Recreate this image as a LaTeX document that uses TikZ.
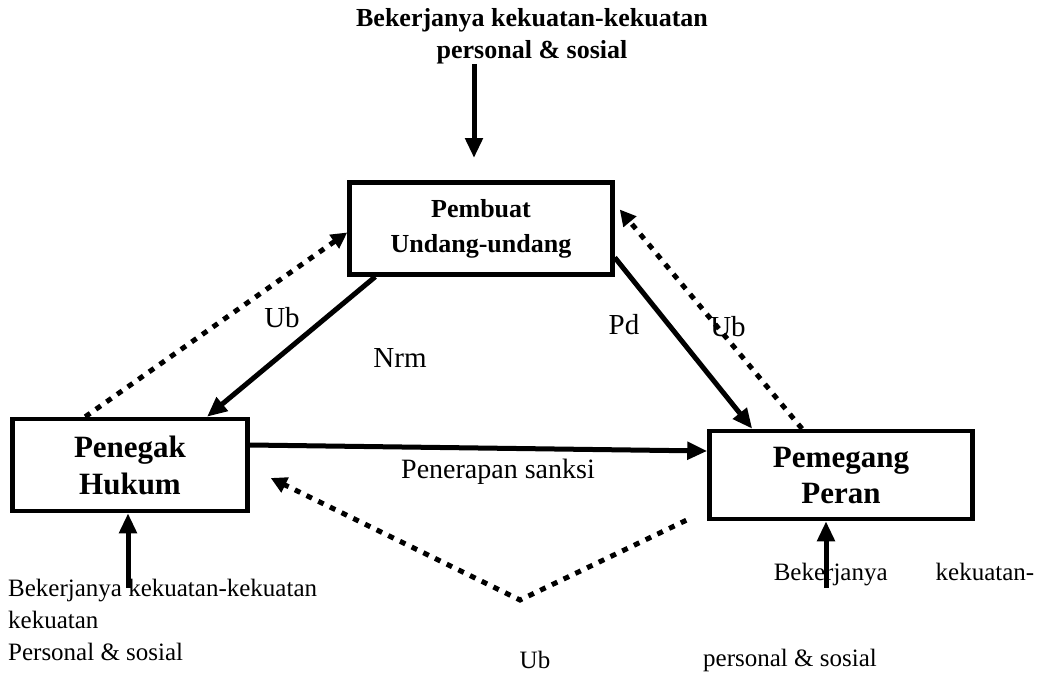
\documentclass[tikz,border=0pt]{standalone}
\usepackage{fontspec}
\setmainfont{Liberation Serif}
\usetikzlibrary{arrows.meta}

\begin{document}
\begin{tikzpicture}
[every node/.style={inner sep=0pt},
 box/.style={rectangle, draw=black, line width=4.5pt, align=center},
 solidarr/.style={line width=5pt, -{Triangle[length=20pt, width=17pt]}},
 dotarr/.style={line width=5pt, dash pattern=on 6pt off 7pt, -{Triangle[length=16pt, width=16pt]}},
 lbl/.style={font=\fontsize{29}{34}\selectfont},
 txt/.style={font=\fontsize{25}{32}\selectfont, align=left}]
\useasboundingbox (0pt, 0pt) rectangle (1047pt, -677pt);
% the three parties
\node (pembuat) [box, minimum width=263pt, minimum height=92pt, font=\fontsize{26}{35}\selectfont\bfseries] at (481pt, -228.5pt) {Pembuat\\Undang-undang};
\node (penegak) [box, minimum width=235pt, minimum height=92pt, font=\fontsize{31}{37}\selectfont\bfseries] at (130pt, -465pt) {Penegak\\Hukum};
\node (pemegang) [box, minimum width=263pt, minimum height=88pt, font=\fontsize{31}{36}\selectfont\bfseries] at (841pt, -475pt) {Pemegang\\Peran};
% outside forces
\node (toptxt) [align=center, font=\fontsize{26}{32}\selectfont\bfseries] at (532pt, -36pt) {Bekerjanya kekuatan-kekuatan\\personal \& sosial};
\node (lefttxt) [txt, anchor=west] at (8pt, -620pt) {Bekerjanya kekuatan-kekuatan\\kekuatan\\Personal \& sosial};
\node (righttxt) [txt] at (904pt, -575pt) {Bekerjanya\hspace{48pt}kekuatan-};
\node (righttxt2) [txt] at (790pt, -660pt) {personal \& sosial};
\coordinate (toptip) at (474pt, -158pt);
\coordinate (ltail) at (128pt, -588pt);
\coordinate (rtail) at (826pt, -588pt);
\coordinate (vtx) at (520pt, -600pt);
\draw [solidarr] (toptxt.south -| toptip) -- (toptip);
\draw [solidarr] (ltail) -- (penegak.south -| ltail);
\draw [solidarr] (rtail) -- (pemegang.south -| rtail);
% relations
\draw [solidarr] ([xshift=28pt]pembuat.south west) -- ([xshift=77pt]penegak.north);
\draw [dotarr] ([xshift=75pt]penegak.north west) -- ([yshift=-4pt]pembuat.west);
\draw [solidarr] ([yshift=-29pt]pembuat.east) -- ([xshift=45pt]pemegang.north west);
\draw [dotarr] ([xshift=-39pt]pemegang.north) -- ([xshift=5pt, yshift=19pt]pembuat.east);
\draw [solidarr] ([yshift=20pt]penegak.east) -- ([yshift=24pt]pemegang.west);
\draw [dotarr] ([xshift=-21pt, yshift=1pt]pemegang.south west) -- (vtx) -- ([xshift=21pt, yshift=-13pt]penegak.east);
% labels
\node (ub1) [lbl] at (282pt, -318pt) {Ub};
\node (nrm) [lbl] at (400pt, -358pt) {Nrm};
\node (pd) [lbl] at (624pt, -325pt) {Pd};
\node (ub2) [lbl] at (728pt, -327pt) {Ub};
\node (sanksi) [font=\fontsize{28}{32}\selectfont] at (498pt, -472pt) {Penerapan sanksi};
\node (ub3) [font=\fontsize{25}{30}\selectfont] at (535pt, -660pt) {Ub};
\end{tikzpicture}
\end{document}
